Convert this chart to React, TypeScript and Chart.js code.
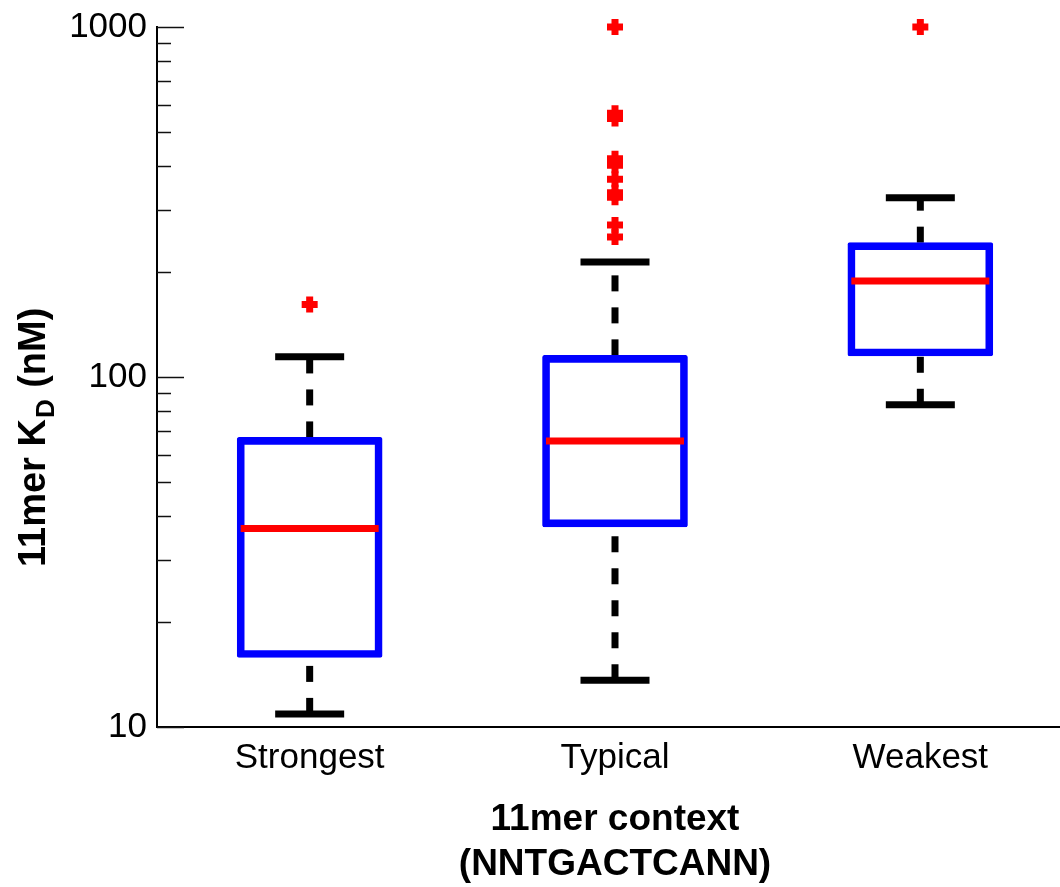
import React, { useEffect, useRef } from 'react';
import { Chart, registerables } from 'chart.js';

Chart.register(...registerables);

const categories = ['Strongest', 'Typical', 'Weakest'];
const lowerWhisker = [10.9, 13.6, 83.3];
const q1 = [15.8, 37.3, 114.8];
const medians = [36.9, 65.6, 188];
const q3 = [67.2, 115.3, 242];
const upperWhisker = [114.3, 213, 325];
const outliersStrongest = [161];
const outliersTypical = [1000, 567, 548, 420, 403, 367, 336, 326, 272, 251];
const outliersWeakest = [1000];
const majorTicks = [10, 100, 1000];
const minorTicks = [20, 30, 40, 50, 60, 70, 80, 90, 200, 300, 400, 500, 600, 700, 800, 900];
const yTitleMain = '11mer K';
const yTitleSub = 'D';
const yTitleEnd = ' (nM)';
const xTitle = ['11mer context', '(NNTGACTCANN)'];

const FONT = "'Liberation Sans', Arial, Helvetica, sans-serif";

const boxPlugin = {
  id: 'boxParts',
  beforeDatasetsDraw(chart: any) {
    const { ctx, scales } = chart;
    const x = scales.x;
    const y = scales.y;
    ctx.save();
    ctx.strokeStyle = '#000000';
    ctx.lineWidth = 7;
    ctx.lineCap = 'butt';
    ctx.setLineDash([16, 16]);
    categories.forEach((_, i) => {
      const px = x.getPixelForValue(i);
      ctx.beginPath();
      ctx.moveTo(px, y.getPixelForValue(lowerWhisker[i]));
      ctx.lineTo(px, y.getPixelForValue(q1[i]));
      ctx.stroke();
      ctx.beginPath();
      ctx.moveTo(px, y.getPixelForValue(q3[i]));
      ctx.lineTo(px, y.getPixelForValue(upperWhisker[i]));
      ctx.stroke();
    });
    ctx.restore();
  },
  afterDatasetsDraw(chart: any) {
    const { ctx, scales } = chart;
    const x = scales.x;
    const y = scales.y;
    ctx.save();
    ctx.setLineDash([]);
    ctx.lineCap = 'butt';
    ctx.lineWidth = 7;
    categories.forEach((_, i) => {
      const px = x.getPixelForValue(i);
      ctx.strokeStyle = '#000000';
      [lowerWhisker[i], upperWhisker[i]].forEach((v) => {
        const py = y.getPixelForValue(v);
        ctx.beginPath();
        ctx.moveTo(px - 34.5, py);
        ctx.lineTo(px + 34.5, py);
        ctx.stroke();
      });
      const pm = y.getPixelForValue(medians[i]);
      ctx.strokeStyle = '#ff0000';
      ctx.beginPath();
      ctx.moveTo(px - 69, pm);
      ctx.lineTo(px + 69, pm);
      ctx.stroke();
    });
    ctx.restore();
  },
  afterDraw(chart: any) {
    const { ctx, scales, chartArea } = chart;
    const y = scales.y;
    ctx.save();
    ctx.strokeStyle = '#111111';
    ctx.lineWidth = 1.5;
    const left = chartArea.left;
    majorTicks.forEach((v) => {
      const py = Math.round(y.getPixelForValue(v)) + 0.5;
      ctx.beginPath();
      ctx.moveTo(left, py);
      ctx.lineTo(left + 27, py);
      ctx.stroke();
    });
    minorTicks.forEach((v) => {
      const py = Math.round(y.getPixelForValue(v)) + 0.5;
      ctx.beginPath();
      ctx.moveTo(left, py);
      ctx.lineTo(left + 14, py);
      ctx.stroke();
    });
    // y axis title with subscript
    ctx.translate(45, 567);
    ctx.rotate(-Math.PI / 2);
    ctx.fillStyle = '#000000';
    ctx.textAlign = 'left';
    ctx.textBaseline = 'alphabetic';
    ctx.font = `bold 38px ${FONT}`;
    ctx.fillText(yTitleMain, 0, 0);
    let w = ctx.measureText(yTitleMain).width + 1;
    ctx.font = `bold 26px ${FONT}`;
    ctx.fillText(yTitleSub, w, 9);
    w += ctx.measureText(yTitleSub).width + 1;
    ctx.font = `bold 38px ${FONT}`;
    ctx.fillText(yTitleEnd, w, 0);
    ctx.restore();
  },
};

export default function App() {
  const canvasRef = useRef<HTMLCanvasElement | null>(null);

  useEffect(() => {
    const canvas = canvasRef.current;
    if (!canvas) return;
    const outlierPoints = [
      ...outliersStrongest.map((v) => ({ x: categories[0], y: v })),
      ...outliersTypical.map((v) => ({ x: categories[1], y: v })),
      ...outliersWeakest.map((v) => ({ x: categories[2], y: v })),
    ];
    const chart = new Chart(canvas, {
      type: 'bar',
      data: {
        labels: categories,
        datasets: [
          {
            type: 'bar',
            data: categories.map((_, i) => [q1[i], q3[i]]),
            backgroundColor: 'rgba(0,0,0,0)',
            borderColor: '#0000ff',
            borderWidth: 7,
            borderSkipped: false,
            borderRadius: 2,
            barThickness: 145,
          } as any,
          {
            type: 'line',
            data: outlierPoints as any,
            showLine: false,
            pointStyle: 'cross',
            pointRadius: 8,
            pointBorderWidth: 7,
            pointBorderColor: '#ff0000',
            pointBackgroundColor: '#ff0000',
            borderColor: '#ff0000',
            clip: false,
          } as any,
        ],
      },
      options: {
        responsive: false,
        animation: false,
        devicePixelRatio: 1,
        layout: { padding: { left: 69, top: 27, right: 7, bottom: 0 } },
        plugins: {
          legend: { display: false },
          tooltip: { enabled: false },
          title: { display: false },
        },
        scales: {
          x: {
            type: 'category',
            offset: true,
            grid: { display: false, drawTicks: false, tickLength: 0 },
            border: { display: true, color: '#000000', width: 2 },
            ticks: {
              color: '#000000',
              font: { family: FONT, size: 35 },
              padding: 10,
              maxRotation: 0,
              autoSkip: false,
            },
            title: {
              display: true,
              text: xTitle,
              color: '#000000',
              font: { family: FONT, size: 37, weight: 'bold', lineHeight: 45 / 37 },
              padding: { top: 0, bottom: 0 },
            },
            afterFit: (scale: any) => {
              scale.height = 160;
              scale.paddingLeft = 0;
              scale.paddingRight = 0;
            },
          },
          y: {
            type: 'logarithmic',
            min: 10,
            max: 1000,
            grid: { display: false, drawTicks: false, tickLength: 0 },
            border: { display: true, color: '#000000', width: 2 },
            afterBuildTicks: (scale: any) => {
              scale.ticks = majorTicks.map((v) => ({ value: v, major: true }));
            },
            ticks: {
              color: '#000000',
              font: { family: FONT, size: 35 },
              padding: 10,
              autoSkip: false,
              callback: (v: any) => String(v),
            },
            afterFit: (scale: any) => {
              scale.width = 88;
              scale.paddingTop = 0;
              scale.paddingBottom = 0;
            },
          },
        },
      } as any,
      plugins: [boxPlugin],
    });
    return () => chart.destroy();
  }, []);

  return (
    <div
      style={{
        position: 'fixed',
        left: 0,
        top: 0,
        width: 1060,
        height: 887,
        overflow: 'hidden',
        background: '#ffffff',
      }}
    >
      <canvas ref={canvasRef} width={1088} height={887} style={{ width: 1088, height: 887, display: 'block' }} />
    </div>
  );
}
